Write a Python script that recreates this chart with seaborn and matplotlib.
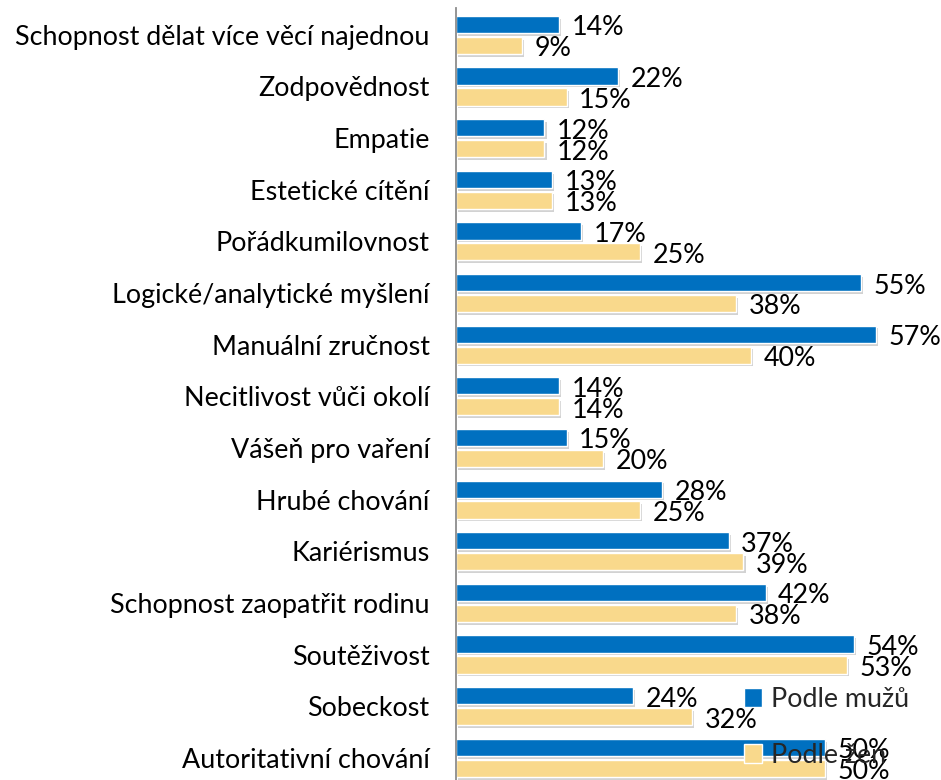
import matplotlib
matplotlib.use("Agg")
import matplotlib.pyplot as plt
import matplotlib.patheffects as pe
from matplotlib.patches import Patch
import pandas as pd
import seaborn as sns

categories = [
    "Schopnost dělat více věcí najednou",
    "Zodpovědnost",
    "Empatie",
    "Estetické cítění",
    "Pořádkumilovnost",
    "Logické/analytické myšlení",
    "Manuální zručnost",
    "Necitlivost vůči okolí",
    "Vášeň pro vaření",
    "Hrubé chování",
    "Kariérismus",
    "Schopnost zaopatřit rodinu",
    "Soutěživost",
    "Sobeckost",
    "Autoritativní chování",
]
podle_muzu = [14, 22, 12, 13, 17, 55, 57, 14, 15, 28, 37, 42, 54, 24, 50]
podle_zen = [9, 15, 12, 13, 25, 38, 40, 14, 20, 25, 39, 38, 53, 32, 50]
series = ["Podle mužů", "Podle žen"]

BLUE = "#0070C0"
YELLOW = "#F9D98C"

sns.set_theme(style="white")
plt.rcParams["font.family"] = ["Lato", "DejaVu Sans"]
FS = 19.4

df = pd.DataFrame({"kategorie": categories, series[0]: podle_muzu, series[1]: podle_zen})
df = df.melt(id_vars="kategorie", var_name="kdo", value_name="hodnota")

fig = plt.figure(figsize=(9.41, 7.8), dpi=100)
ax = fig.add_axes([456 / 941, 0, 1 - 456 / 941, 1 - 8 / 780])

sns.barplot(data=df, y="kategorie", x="hodnota", hue="kdo", orient="h",
            palette=[BLUE, YELLOW], saturation=1, width=0.81, gap=0.18,
            legend=False, ax=ax)

# drop shadow like the office chart, plus "NN%" labels past the bar ends
shadow = [pe.SimplePatchShadow(offset=(1.5, -2), shadow_rgbFace="#7f7f7f", alpha=0.35), pe.Normal()]
for cont, vals in zip(ax.containers, [podle_muzu, podle_zen]):
    for bar, v in zip(cont, vals):
        bar.set_path_effects(shadow)
        ax.annotate(f"{v}%", xy=(bar.get_width(), bar.get_y() + bar.get_height() / 2),
                    xytext=(9, -2.5), textcoords="offset points",
                    ha="left", va="center", fontsize=FS, color="black",
                    annotation_clip=False)

ax.set_xlim(0, 65.8)
ax.set_ylim(14.43, -0.52)
ax.set_xlabel("")
ax.set_ylabel("")
ax.set_xticks([])
ax.tick_params(axis="y", length=0, pad=19, labelsize=FS, colors="black")
sns.despine(ax=ax, top=True, right=True, bottom=True)
ax.spines["left"].set_color("#8c8c8c")
ax.spines["left"].set_linewidth(1.3)

handles = [Patch(facecolor=BLUE), Patch(facecolor=YELLOW)]
fig.legend(handles, series, loc="upper left", bbox_to_anchor=(744 / 941, 1 - 687 / 780),
           frameon=False, borderpad=0, borderaxespad=0, fontsize=FS,
           handlelength=0.66, handleheight=0.66, handletextpad=0.35, labelspacing=1.15)

fig.savefig("out.png", dpi=100)
